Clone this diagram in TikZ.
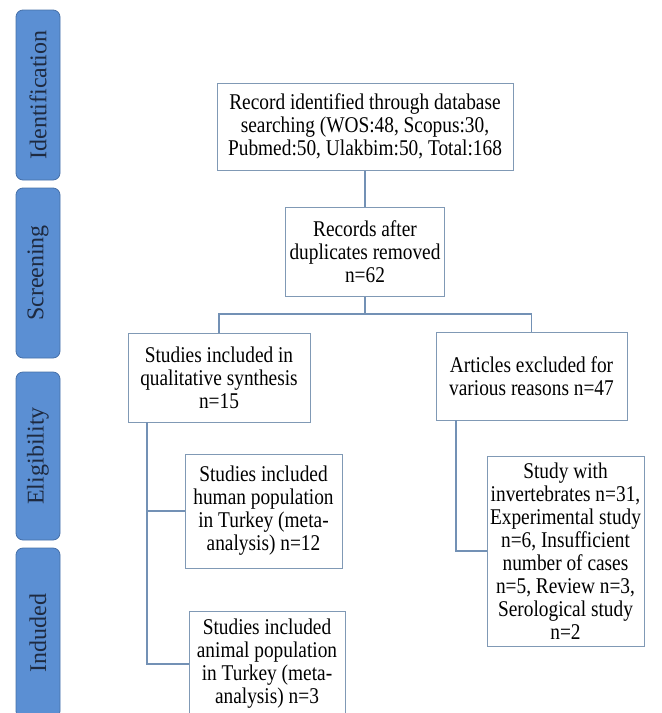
\documentclass[tikz,border=0pt]{standalone}
\usepackage{fontspec}
\setmainfont{Liberation Serif}
\newfontfamily\boxfont{Liberation Serif}[FakeStretch=0.86]
\definecolor{boxline}{HTML}{8099B5}
\definecolor{linkc}{HTML}{7391B5}
\definecolor{sidefill}{HTML}{5B8FD3}
\definecolor{sideline}{HTML}{4670A8}
\definecolor{sidetext}{HTML}{1E2A40}
\begin{document}
\begin{tikzpicture}[x=1pt,y=-1pt,
  box/.style={draw=boxline, line width=1pt, fill=white, align=center, inner sep=0pt,
    font=\boxfont\fontsize{22.5}{23}\selectfont},
  side/.style={draw=sideline, fill=sidefill, rounded corners=7pt, line width=0.8pt,
    minimum height=44pt, inner sep=0pt, rotate=90, text=sidetext,
    font=\fontsize{24}{26}\selectfont},
  link/.style={draw=linkc, line width=1.1pt}]
\useasboundingbox (0,0) rectangle (662,713);
% side bars
\node[side, minimum width=170pt] (sid) at (38,95) {Identification};
\node[side, minimum width=170pt] (sscr) at (38,273) {Screening};
\node[side, minimum width=168pt] (selig) at (38,456) {Eligibility};
\node[side, minimum width=170pt] (sinc) at (38,633) {Induded};
% boxes
\node[box, minimum width=296pt, minimum height=87pt] (b1) at (365,126.5)
  {Record identified through database\\searching (WOS:48, Scopus:30,\\Pubmed:50, Ulakbim:50, Total:168};
\node[box, minimum width=159pt, minimum height=89pt] (b2) at (365,251.5)
  {Records after\\duplicates removed\\n=62};
\node[box, minimum width=182pt, minimum height=89pt] (b3) at (219,377.5)
  {Studies included in\\qualitative synthesis\\n=15};
\node[box, minimum width=191pt, minimum height=88pt] (b4) at (531.5,376)
  {Articles excluded for\\various reasons n=47};
\node[box, minimum width=157pt, minimum height=114pt] (b5) at (263.5,511)
  {Studies included\\human population\\in Turkey (meta-\\analysis) n=12};
\node[box, minimum width=156pt, minimum height=106pt] (b6) at (267,664)
  {Studies included\\animal population\\in Turkey (meta-\\analysis) n=3};
\node[box, minimum width=157pt, minimum height=190pt] (b7) at (565.5,551)
  {Study with\\invertebrates n=31,\\Experimental study\\n=6, Insufficient\\number of cases\\n=5, Review n=3,\\Serological study\\n=2};
% connectors
\coordinate (j) at (365,314);
\coordinate (l1) at (147,422);
\coordinate (r1) at (456,420);
\draw[link] (b1) -- (b2);
\draw[link] (b2) -- (j);
\draw[link] (b3.north) |- (j) -| (b4.north);
\draw[link] (l1) |- (b5.west);
\draw[link] (l1) |- (b6.west);
\draw[link] (r1) |- (b7.west);
\end{tikzpicture}
\end{document}
